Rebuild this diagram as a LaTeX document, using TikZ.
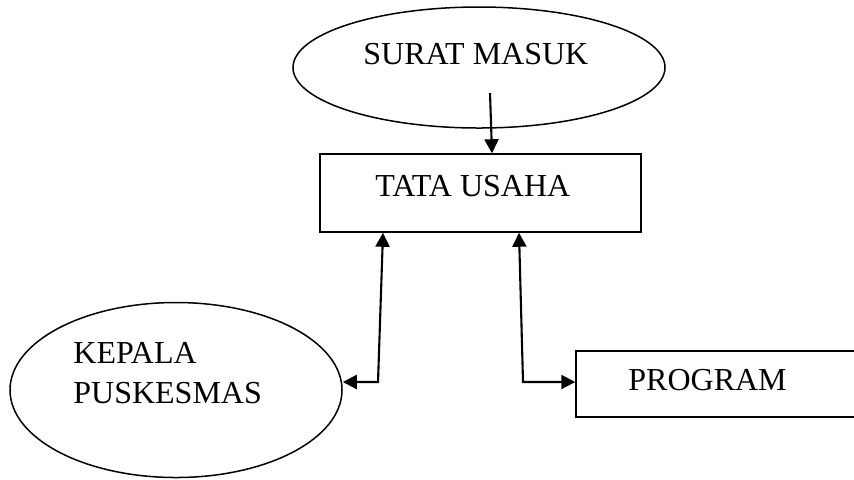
\documentclass[tikz,border=0pt]{standalone}
\usepackage{fontspec}
\setmainfont{Liberation Serif}
\usetikzlibrary{shapes.geometric,arrows.meta}
\begin{document}
\begin{tikzpicture}[x=0.5pt,y=-0.5pt,
  shapeline/.style={draw=black, line width=0.75pt, inner sep=0pt},
  oval/.style={shapeline, ellipse},
  box/.style={shapeline, rectangle},
  lbl/.style={inner sep=0pt, anchor=base west, font=\fontsize{16}{19}\selectfont},
  conn/.style={line width=1.05pt, {Triangle[length=7pt,width=7pt]}-{Triangle[length=7pt,width=7pt]}},
  connone/.style={line width=1.05pt, -{Triangle[length=7pt,width=7pt]}}]
\useasboundingbox (0,0) rectangle (854,479);
% shapes
\node[oval, minimum width=186pt, minimum height=60.5pt] (surat) at (479,67.5) {};
\node[box, minimum width=160.5pt, minimum height=39pt] (tata) at (480.5,193) {};
\node[oval, minimum width=166pt, minimum height=87.5pt] (kepala) at (176,390) {};
\node[box, minimum width=147pt, minimum height=33pt] (program) at (723,384) {};
% texts
\node[lbl] (tsurat) at (363,64) {SURAT MASUK};
\node[lbl] (ttata) at (375,196) {TATA USAHA};
\node[lbl] (tkep1) at (73,363) {KEPALA};
\node[lbl] (tkep2) at (73,403) {PUSKESMAS};
\node[lbl] (tprog) at (628,390) {PROGRAM};
% connector points
\coordinate (sstart) at (490,93);
\coordinate (send) at (492,154);
\coordinate (ltop) at (383,232);
\coordinate (lcorner) at (378,382);
\coordinate (rtop) at (519,232);
\coordinate (rcorner) at (523,382);
% connectors
\draw[connone] (sstart) -- (send |- tata.north);
\draw[conn] (ltop |- tata.south) -- (lcorner) -- (lcorner -| kepala.east);
\draw[conn] (rtop |- tata.south) -- (rcorner) -- (rcorner -| program.west);
\end{tikzpicture}
\end{document}
